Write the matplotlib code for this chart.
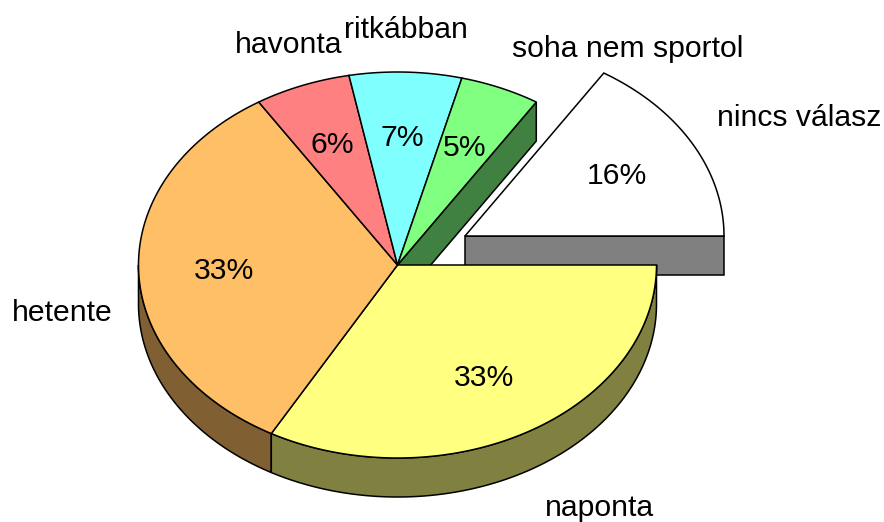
import numpy as np
import matplotlib
matplotlib.use('Agg')
import matplotlib.pyplot as plt
from matplotlib.patches import Polygon

plt.rcParams['font.family'] = ['Liberation Sans', 'DejaVu Sans']

# data, clockwise from 3 o'clock
labels = ['naponta', 'hetente', 'havonta', 'ritkábban', 'soha nem sportol', 'nincs válasz']
values = [33.1, 32.9, 6.0, 7.0, 5.0, 16.0]
top_colors = ['#FFFF80', '#FFBF66', '#FF8080', '#80FFFF', '#80FF80', '#FFFFFF']
side_colors = ['#808040', '#806033', '#804040', '#408080', '#408040', '#808080']

# geometry in pixels
cx, cy = 397.5, 265
rx, ry = 259, 193
depth = 39
explode = {5: (67.5, -29)}
label_pos = [(600, 508), (62, 313), (289, 45), (406, 30), (628, 49), (799, 118)]
pct_pos = [(484, 378), (224, 271), (332, 145), (402, 138), (465, 148), (617, 176)]


def arc(t0, t1, dx=0, dy=0):
    t = np.radians(np.linspace(t0, t1, 200))
    return np.column_stack([cx + dx + rx * np.cos(t), cy + dy + ry * np.sin(t)])


fig = plt.figure(figsize=(8.84, 5.22), dpi=100)
ax = fig.add_axes([0, 0, 1, 1])
ax.set_xlim(0, 884)
ax.set_ylim(522, 0)
ax.axis('off')

edges = np.concatenate([[0], np.cumsum(values)]) / sum(values) * 360

# sides first, back to front
for i in [4, 5, 1, 0]:
    t0, t1 = edges[i], edges[i + 1]
    dx, dy = explode.get(i, (0, 0))
    apex = np.array([cx + dx, cy + dy])
    if i in (4, 5):
        # cut face along the radius next to the gap
        end = arc(t1, t1, dx, dy)[0]
        side = np.array([apex, end, end + [0, depth], apex + [0, depth]])
    else:
        # outer rim, only the part facing the viewer
        a0, a1 = max(t0, 0), min(t1, 180)
        rim = arc(a0, a1, dx, dy)
        side = np.vstack([rim, (rim + [0, depth])[::-1]])
    ax.add_patch(Polygon(side, closed=True, fc=side_colors[i], ec='black', lw=1.1, zorder=2))

# top faces
for i in range(len(values)):
    dx, dy = explode.get(i, (0, 0))
    pts = np.vstack([[cx + dx, cy + dy], arc(edges[i], edges[i + 1], dx, dy)])
    ax.add_patch(Polygon(pts, closed=True, fc=top_colors[i], ec='black', lw=1.1, zorder=3))

for i in range(len(values)):
    ax.text(*label_pos[i], labels[i], fontsize=21.7, ha='center', va='center', zorder=4)
    ax.text(*pct_pos[i], f'{values[i]:.0f}%', fontsize=21.7, ha='center', va='center', zorder=4)

fig.savefig('out.png', dpi=100)
